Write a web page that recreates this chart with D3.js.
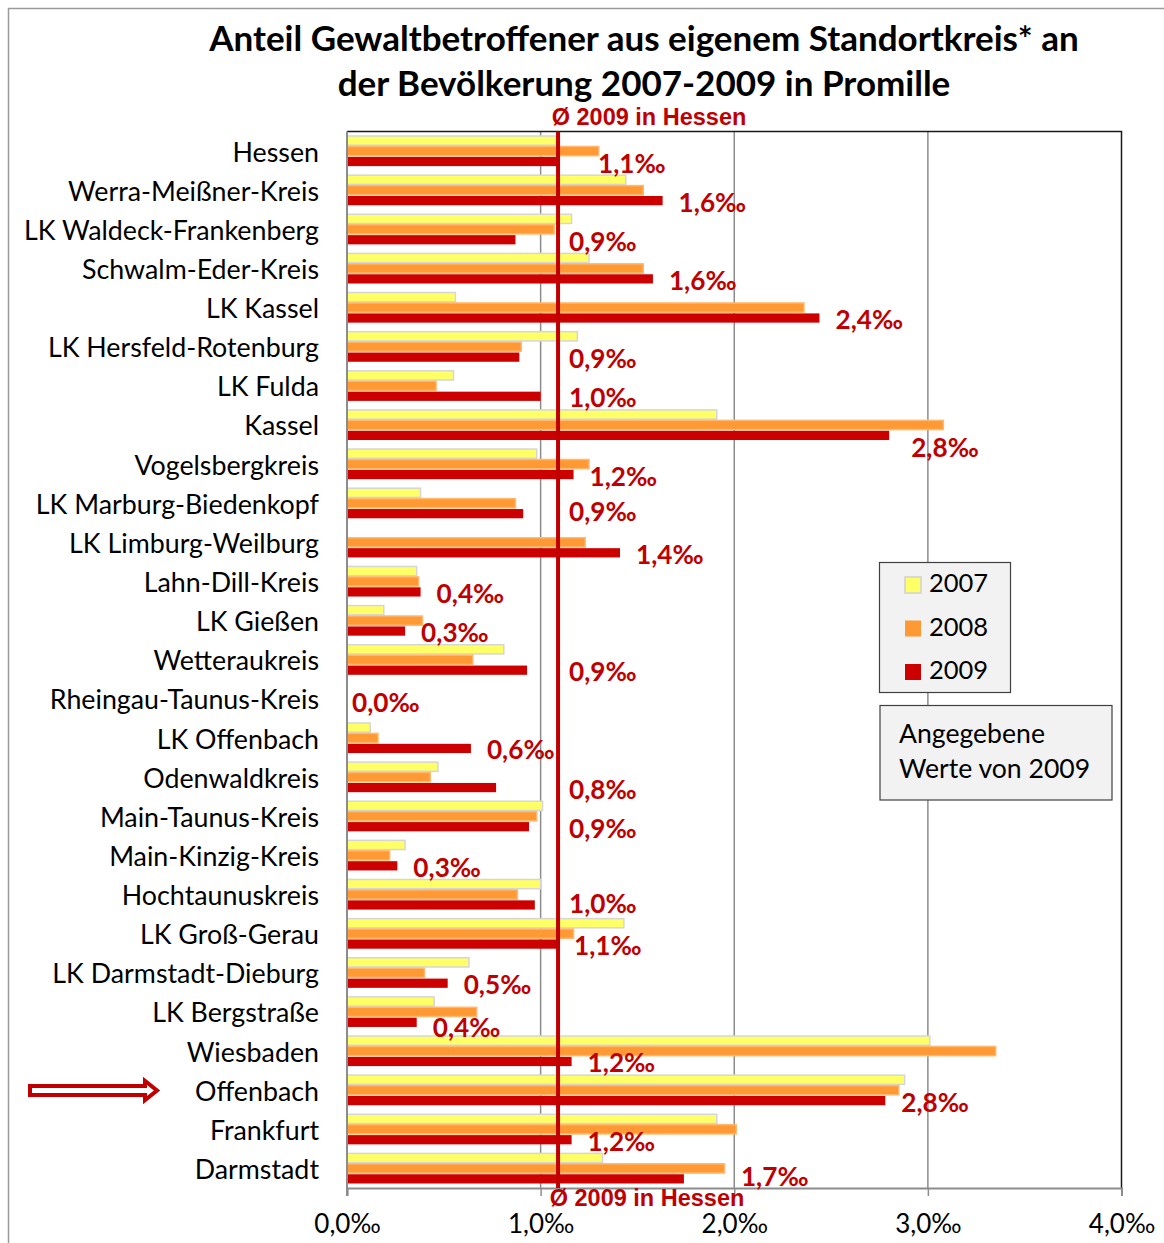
<!DOCTYPE html>
<html lang="de">
<head>
<meta charset="utf-8">
<title>Anteil Gewaltbetroffener 2007-2009</title>
<script src="https://cdn.jsdelivr.net/npm/d3@7"></script>
<style>
  html, body { margin: 0; padding: 0; background: #fff; }
  svg { display: block; }
  .cat { font-family: Lato, "Noto Sans", sans-serif; font-size: 26.8px; fill: #000; }
  .tick text { font-family: Lato, "Noto Sans", sans-serif; font-size: 26px; fill: #000; }
  .val { font-family: Lato, "Noto Sans", sans-serif; font-weight: bold; font-size: 26.2px; fill: #c00000; }
  .avg { font-family: "Liberation Sans", Arial, sans-serif; font-weight: bold; font-size: 23.5px; fill: #c00000; }
  .title { font-family: Lato, "Noto Sans", sans-serif; font-weight: bold; font-size: 35px; fill: #000; }
  .legend text { font-family: Lato, "Noto Sans", sans-serif; font-size: 25.5px; fill: #000; }
  .note text { font-family: Lato, "Noto Sans", sans-serif; font-size: 26.6px; fill: #000; }
</style>
</head>
<body>
<svg id="chart" width="1164" height="1243"></svg>
<script>
// Kreise / kreisfreie Städte, von oben nach unten
const categories = [
  "Hessen", "Werra-Meißner-Kreis", "LK Waldeck-Frankenberg", "Schwalm-Eder-Kreis",
  "LK Kassel", "LK Hersfeld-Rotenburg", "LK Fulda", "Kassel", "Vogelsbergkreis",
  "LK Marburg-Biedenkopf", "LK Limburg-Weilburg", "Lahn-Dill-Kreis", "LK Gießen",
  "Wetteraukreis", "Rheingau-Taunus-Kreis", "LK Offenbach", "Odenwaldkreis",
  "Main-Taunus-Kreis", "Main-Kinzig-Kreis", "Hochtaunuskreis", "LK Groß-Gerau",
  "LK Darmstadt-Dieburg", "LK Bergstraße", "Wiesbaden", "Offenbach", "Frankfurt", "Darmstadt"
];

const years = ["2007", "2008", "2009"];

// Anteil in Promille
const values2007 = [1.08, 1.44, 1.16, 1.25, 0.56, 1.19, 0.55, 1.91, 0.98, 0.38, 0, 0.36, 0.19,
                    0.81, 0, 0.12, 0.47, 1.01, 0.30, 1.00, 1.43, 0.63, 0.45, 3.01, 2.88, 1.91, 1.32];
const values2008 = [1.30, 1.53, 1.07, 1.53, 2.36, 0.90, 0.46, 3.08, 1.25, 0.87, 1.23, 0.37, 0.39,
                    0.65, 0, 0.16, 0.43, 0.98, 0.22, 0.88, 1.17, 0.40, 0.67, 3.35, 2.85, 2.01, 1.95];
const values2009 = [1.09, 1.63, 0.87, 1.58, 2.44, 0.89, 1.00, 2.80, 1.17, 0.91, 1.41, 0.38, 0.30,
                    0.93, 0, 0.64, 0.77, 0.94, 0.26, 0.97, 1.09, 0.52, 0.36, 1.16, 2.78, 1.16, 1.74];

// Durchschnitt 2009 in Hessen
const avgHessen2009 = 1.09;

const xTicks = [0, 1, 2, 3, 4];

const colors = { "2007": "#ffff66", "2008": "#ff9933", "2009": "#cc0000" };
const borders = { "2007": "#d6d6d6", "2008": "#ffb870", "2009": "#cc0000" };

// kleine Verschiebungen einzelner Wertebeschriftungen [dx, dy]
const labelShift = {
  "Hessen": [24, 1], "Kassel": [6, 11], "Rheingau-Taunus-Kreis": [-11, -8], "Darmstadt": [41, -4],
  "LK Marburg-Biedenkopf": [0, -4], "Hochtaunuskreis": [0, -3], "LK Bergstraße": [0, 4]
};

const fmt = v => d3.format(".1f")(v).replace(".", ",") + "‰";

const rows = categories.map((c, i) => ({
  name: c, "2007": values2007[i], "2008": values2008[i], "2009": values2009[i]
}));

const svg = d3.select("#chart");

// Rahmen des Diagrammbereichs
svg.append("path")
  .attr("d", "M8.5,1243 V8.5 H1164")
  .attr("fill", "none").attr("stroke", "#9a9a9a").attr("stroke-width", 1.5);

const plot = { left: 347, right: 1121.5, top: 131.5, bottom: 1188 };

const x = d3.scaleLinear().domain([0, 4]).range([plot.left, plot.right]);
const y = d3.scaleBand().domain(categories).range([plot.top, plot.bottom]).padding(0);
const yInner = d3.scaleBand().domain(years)
  .range([y.bandwidth() * 0.1, y.bandwidth() * 0.9]).padding(0);

// Titel
const title = svg.append("text").attr("class", "title").attr("text-anchor", "middle");
title.append("tspan").attr("x", 644).attr("y", 51).text("Anteil Gewaltbetroffener aus eigenem Standortkreis* an");
title.append("tspan").attr("x", 644).attr("y", 96).text("der Bevölkerung 2007-2009 in Promille");

// Gitternetzlinien
svg.append("g").selectAll("line").data(xTicks.slice(1, -1)).join("line")
  .attr("x1", d => x(d)).attr("x2", d => x(d))
  .attr("y1", plot.top).attr("y2", plot.bottom)
  .attr("stroke", "#8c8c8c").attr("stroke-width", 1.5);

// obere und rechte Begrenzung
svg.append("path")
  .attr("d", `M${plot.left},${plot.top} H${plot.right} V${plot.bottom}`)
  .attr("fill", "none").attr("stroke", "#1a1a1a").attr("stroke-width", 1.5);

// Balken
const groups = svg.append("g").selectAll("g").data(rows).join("g")
  .attr("transform", d => `translate(0,${y(d.name)})`);

groups.selectAll("rect")
  .data(d => years.map(yr => ({ yr, v: d[yr] })).filter(e => e.v > 0))
  .join("rect")
  .attr("x", x(0))
  .attr("y", e => yInner(e.yr) + 0.6)
  .attr("width", e => x(e.v) - x(0))
  .attr("height", yInner.bandwidth() - 1.2)
  .attr("fill", e => colors[e.yr])
  .attr("stroke", e => borders[e.yr])
  .attr("stroke-width", e => e.yr === "2009" ? 0 : 1.5);

// x-Achse
const xAxis = d3.axisBottom(x).tickValues(xTicks).tickSize(8).tickPadding(10).tickFormat(fmt);
const gx = svg.append("g").attr("transform", `translate(0,${plot.bottom})`).call(xAxis);
gx.select(".domain").attr("stroke", "#8c8c8c").attr("stroke-width", 2);
gx.selectAll(".tick line").attr("stroke", "#8c8c8c").attr("stroke-width", 1.5);
gx.selectAll(".tick text").attr("dy", null).attr("y", 45).attr("font-family", null).attr("font-size", null);

// y-Achse (Linie)
svg.append("line")
  .attr("x1", plot.left).attr("x2", plot.left)
  .attr("y1", plot.top).attr("y2", plot.bottom + 8)
  .attr("stroke", "#8c8c8c").attr("stroke-width", 2);

// Kategoriebeschriftungen
svg.append("g").selectAll("text").data(categories).join("text")
  .attr("class", "cat")
  .attr("text-anchor", "end")
  .attr("x", 319)
  .attr("y", d => y(d) + y.bandwidth() / 2 + 10.5)
  .text(d => d);

// Durchschnittslinie Hessen 2009
const defs = svg.append("defs");
defs.append("filter").attr("id", "soft").append("feGaussianBlur").attr("stdDeviation", 1.2);
const ax = x(avgHessen2009);
svg.append("line")
  .attr("x1", ax + 4).attr("x2", ax + 4).attr("y1", plot.top).attr("y2", plot.bottom)
  .attr("stroke", "#bdbdbd").attr("stroke-width", 3).attr("opacity", 0.6)
  .attr("filter", "url(#soft)");
svg.append("line")
  .attr("x1", ax).attr("x2", ax).attr("y1", plot.top).attr("y2", plot.bottom)
  .attr("stroke", "#c00000").attr("stroke-width", 4);

svg.append("text").attr("class", "avg").attr("text-anchor", "middle")
  .attr("x", ax + 91).attr("y", 125).text("Ø 2009 in Hessen");
svg.append("text").attr("class", "avg").attr("text-anchor", "middle")
  .attr("x", ax + 89).attr("y", 1206).text("Ø 2009 in Hessen");

// Wertebeschriftungen 2009
const labels = svg.append("g").selectAll("text").data(rows).join("text")
  .attr("class", "val")
  .attr("y", d => y(d.name) + yInner("2009") + yInner.bandwidth() / 2 + 11 + (labelShift[d.name] ? labelShift[d.name][1] : 0))
  .text(d => fmt(d["2009"]));

labels.each(function (d) {
  const w = this.getComputedTextLength();
  let lx = x(d["2009"]) + 16;
  // Beschriftung nicht über die Durchschnittslinie legen
  if (lx < ax && lx + w > ax - 3) lx = ax + 11;
  if (labelShift[d.name]) lx += labelShift[d.name][0];
  d3.select(this).attr("x", lx);
});

// Legende
const lg = svg.append("g").attr("class", "legend");
lg.append("rect").attr("x", 879.5).attr("y", 562.5).attr("width", 131).attr("height", 130)
  .attr("fill", "#f2f2f2").attr("stroke", "#404040").attr("stroke-width", 1.2);
years.forEach((yr, i) => {
  lg.append("rect").attr("x", 905).attr("y", 577 + i * 43.5).attr("width", 16).attr("height", 16)
    .attr("fill", colors[yr]).attr("stroke", yr === "2007" ? "#d0d0d0" : "none").attr("stroke-width", 1.5);
  lg.append("text").attr("x", 929).attr("y", 592 + i * 43.5).text(yr);
});

// Hinweisbox
const nb = svg.append("g").attr("class", "note");
nb.append("rect").attr("x", 880).attr("y", 705.5).attr("width", 232).attr("height", 94.5)
  .attr("fill", "#f2f2f2").attr("stroke", "#404040").attr("stroke-width", 1.2);
nb.append("text").attr("x", 899).attr("y", 743).text("Angegebene");
nb.append("text").attr("x", 899).attr("y", 778).text("Werte von 2009");

// Pfeil auf Offenbach
svg.append("path")
  .attr("d", "M30,1086 H145 V1081 L157,1090.5 L145,1100 V1095 H30 Z")
  .attr("fill", "#fff").attr("stroke", "#c00000").attr("stroke-width", 4)
  .attr("stroke-linejoin", "miter");
</script>
</body>
</html>
